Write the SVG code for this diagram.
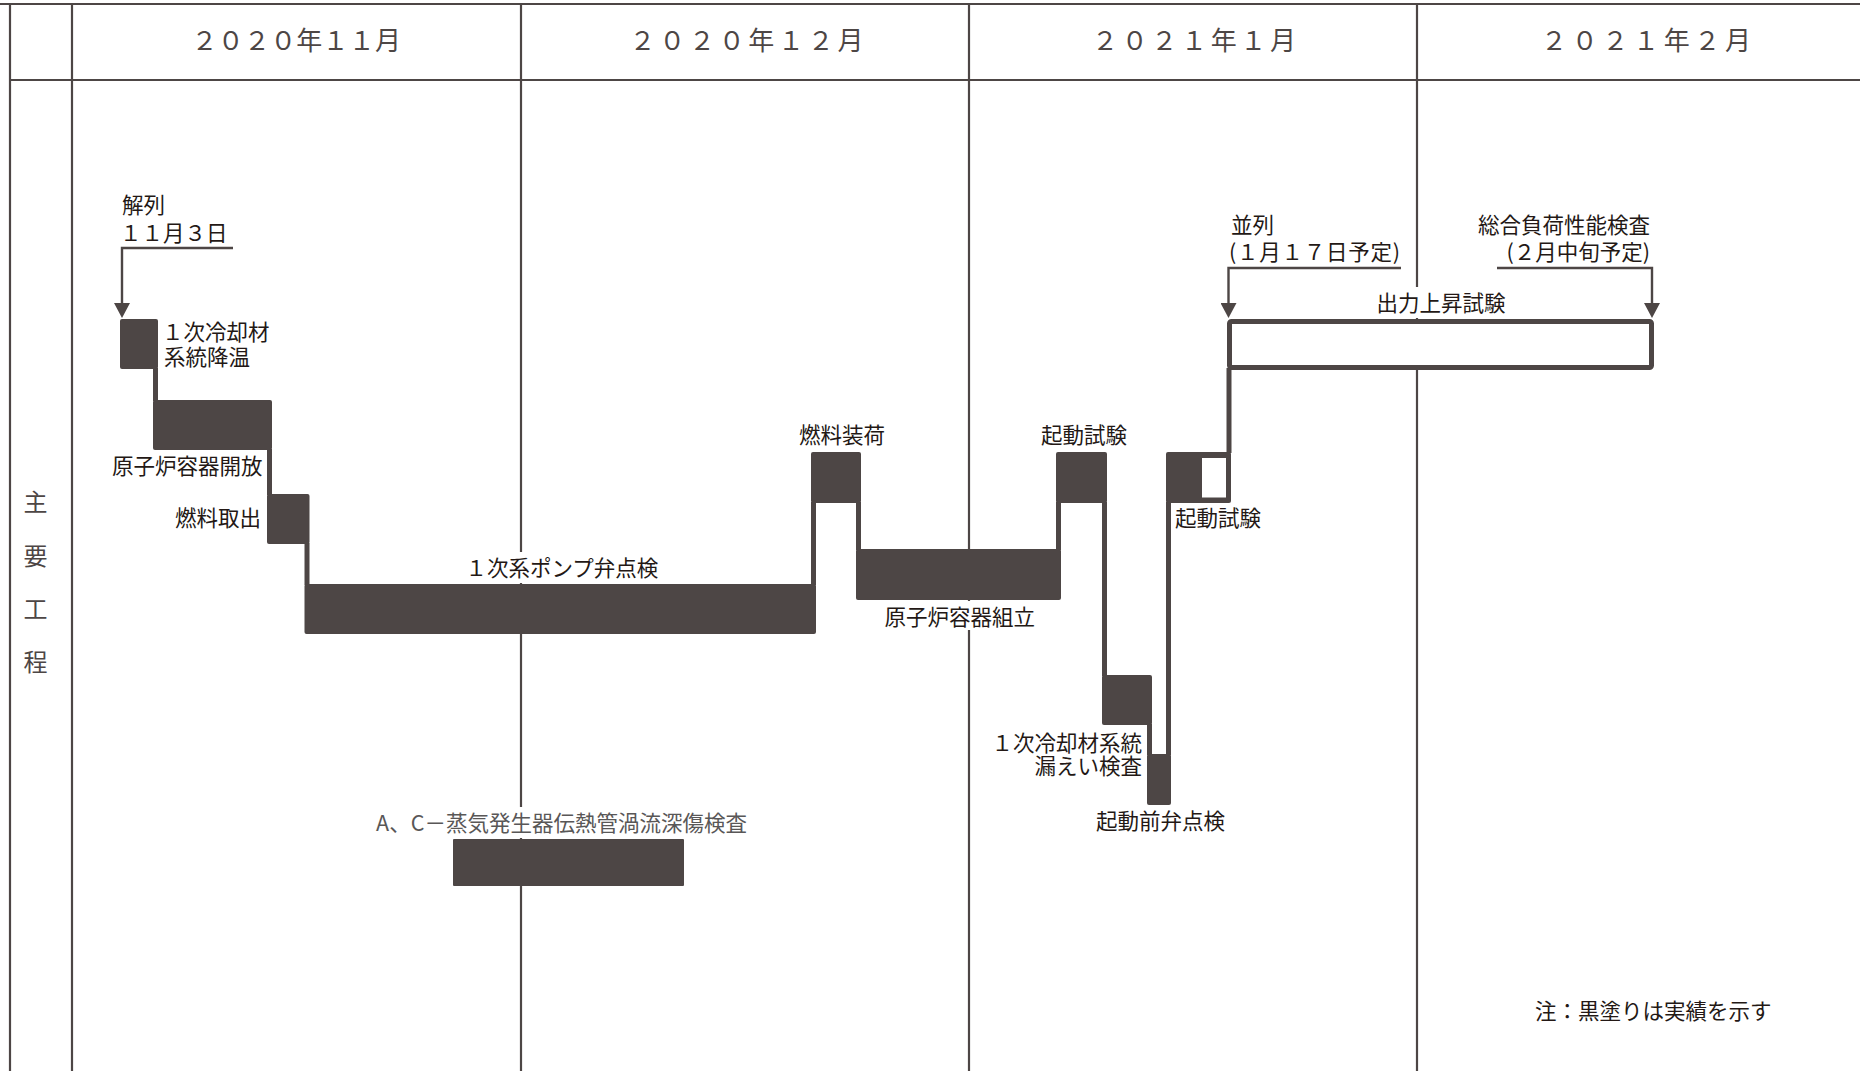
<svg xmlns="http://www.w3.org/2000/svg" width="1860" height="1071" viewBox="0 0 1860 1071">
<style>
  .grid{stroke:#4d4645;stroke-width:2.2;fill:none}
  .bar{fill:#4d4645}
  .conn{stroke:#4d4645;stroke-width:5;fill:none}
  .arr{stroke:#4d4645;stroke-width:2.4;fill:none}
  .hdr{font-family:"Noto Sans CJK JP","Noto Sans",sans-serif;font-size:26px;fill:#4d4645}
  .lbl{font-family:"Noto Sans CJK JP","Noto Sans",sans-serif;font-size:21.5px;fill:#231815}
  .gry{fill:#595757}
  .bg{fill:#ffffff}
</style>
<defs>
  <marker id="ah" markerUnits="userSpaceOnUse" markerWidth="16" markerHeight="16" viewBox="0 0 15 16" refX="0" refY="8" orient="auto">
    <path d="M0,0 L15,8 L0,16 Z" fill="#4d4645"/>
  </marker>
</defs>
<rect width="1860" height="1071" fill="#ffffff"/>
<g id="grid">
  <line class="grid" x1="0" y1="4" x2="1860" y2="4"/>
  <line class="grid" x1="10" y1="80" x2="1860" y2="80"/>
  <line class="grid" x1="10" y1="4" x2="10" y2="1071"/>
  <line class="grid" x1="72" y1="4" x2="72" y2="1071"/>
  <line class="grid" x1="521" y1="4" x2="521" y2="1071"/>
  <line class="grid" x1="969" y1="4" x2="969" y2="1071"/>
  <line class="grid" x1="1417" y1="4" x2="1417" y2="1071"/>
</g>
<g id="headers">
  <text class="hdr" x="191.5" y="50" textLength="209.5" lengthAdjust="spacing">２０２０年１１月</text>
  <text class="hdr" x="629.5" y="50" textLength="234" lengthAdjust="spacing">２０２０年１２月</text>
  <text class="hdr" x="1092" y="50" textLength="204" lengthAdjust="spacing">２０２１年１月</text>
  <text class="hdr" x="1541" y="50" textLength="210" lengthAdjust="spacing">２０２１年２月</text>
  <g class="hdr" style="font-size:24px" text-anchor="middle">
    <text x="35.5" y="511">主</text>
    <text x="35.5" y="565">要</text>
    <text x="35.5" y="618">工</text>
    <text x="35.5" y="671">程</text>
  </g>
</g>
<g id="connectors">
  <line class="conn" x1="155.5" y1="368" x2="155.5" y2="401"/>
  <line class="conn" x1="269.5" y1="449" x2="269.5" y2="495"/>
  <line class="conn" x1="307" y1="543" x2="307" y2="585"/>
  <line class="conn" x1="813.5" y1="502" x2="813.5" y2="585"/>
  <line class="conn" x1="858.5" y1="502" x2="858.5" y2="550"/>
  <line class="conn" x1="1058.5" y1="502" x2="1058.5" y2="550"/>
  <line class="conn" x1="1104.5" y1="502" x2="1104.5" y2="676"/>
  <line class="conn" x1="1149.5" y1="724" x2="1149.5" y2="755"/>
  <line class="conn" x1="1168.5" y1="502" x2="1168.5" y2="755"/>
  <line class="conn" x1="1229" y1="368" x2="1229" y2="453"/>
  <path class="arr" d="M233,248 H122 V303" marker-end="url(#ah)"/>
  <path class="arr" d="M1401,268 H1228.5 V303" marker-end="url(#ah)"/>
  <path class="arr" d="M1497,268 H1652 V303" marker-end="url(#ah)"/>
</g>
<g id="n-kairetsu">
  <text class="lbl" x="122" y="213">解列</text>
  <text class="lbl" x="120" y="240.5">１１月３日</text>
</g>
<g id="n-koon">
  <rect class="bar" x="120" y="319" width="38" height="50" rx="2"/>
  <text class="lbl" x="162" y="340">１次冷却材</text>
  <text class="lbl" x="164" y="365">系統降温</text>
</g>
<g id="n-kaiho">
  <rect class="bar" x="153" y="400" width="119" height="50" rx="2"/>
  <text class="lbl" x="112" y="474">原子炉容器開放</text>
</g>
<g id="n-toridashi">
  <rect class="bar" x="267" y="494" width="42.5" height="50" rx="2"/>
  <text class="lbl" x="175" y="526">燃料取出</text>
</g>
<g id="n-pump">
  <rect class="bg" x="466" y="552" width="194" height="31"/>
  <rect class="bar" x="304.5" y="584" width="511.5" height="50" rx="2"/>
  <text class="lbl" x="465.5" y="576">１次系ポンプ弁点検</text>
</g>
<g id="n-soka">
  <rect class="bar" x="811" y="452" width="50" height="51" rx="2"/>
  <text class="lbl" x="799" y="443">燃料装荷</text>
</g>
<g id="n-kumitate">
  <rect class="bg" x="883" y="601" width="153" height="29"/>
  <rect class="bar" x="856" y="549" width="205" height="51" rx="2"/>
  <text class="lbl" x="884.5" y="625">原子炉容器組立</text>
</g>
<g id="n-kido1">
  <rect class="bar" x="1056" y="452" width="51" height="51" rx="2"/>
  <text class="lbl" x="1041" y="443">起動試験</text>
</g>
<g id="n-more">
  <rect class="bar" x="1102" y="675" width="50" height="50" rx="2"/>
  <text class="lbl" x="1142" y="751" text-anchor="end">１次冷却材系統</text>
  <text class="lbl" x="1142" y="774" text-anchor="end">漏えい検査</text>
</g>
<g id="n-benten">
  <rect class="bar" x="1147" y="754" width="24" height="51" rx="2"/>
  <text class="lbl" x="1096" y="829">起動前弁点検</text>
</g>
<g id="n-kido2">
  <rect class="bar" x="1166" y="452" width="65" height="51" rx="2"/>
  <rect class="bg" x="1202" y="458" width="24" height="39.5"/>
  <text class="lbl" x="1175" y="526">起動試験</text>
</g>
<g id="n-heiretsu">
  <text class="lbl" x="1231" y="233">並列</text>
  <text class="lbl" x="1229" y="260" textLength="171" lengthAdjust="spacing">(１月１７日予定)</text>
</g>
<g id="n-sogo">
  <text class="lbl" x="1650" y="233" text-anchor="end">総合負荷性能検査</text>
  <text class="lbl" x="1650" y="260" text-anchor="end">(２月中旬予定)</text>
</g>
<g id="n-shutsuryoku">
  <rect class="bg" x="1372" y="287" width="138" height="31"/>
  <text class="lbl" x="1441" y="311" text-anchor="middle">出力上昇試験</text>
  <rect x="1229.5" y="321.5" width="422" height="46" rx="2" fill="#ffffff" stroke="#4d4645" stroke-width="5"/>
</g>
<g id="n-sg">
  <rect class="bg" x="372" y="807" width="380" height="31"/>
  <text class="lbl gry" x="561.5" y="831" text-anchor="middle">A、C－蒸気発生器伝熱管渦流深傷検査</text>
  <rect class="bar" x="453" y="839" width="231" height="47" rx="1"/>
</g>
<g id="note">
  <text class="lbl" x="1535" y="1019">注：黒塗りは実績を示す</text>
</g>
</svg>
